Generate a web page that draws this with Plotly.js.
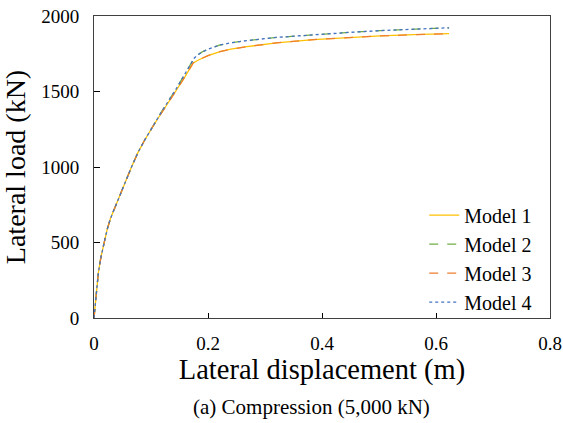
<!DOCTYPE html>
<html><head><meta charset="utf-8">
<script src="https://cdn.plot.ly/plotly-3.0.1.min.js"></script>
<style>html,body{margin:0;padding:0;background:#fff}</style>
</head><body><div id="chart" style="width:563px;height:423px"></div>
<script>
const seriesNames = ["Model 1", "Model 2", "Model 3", "Model 4"];
const xLower = [0, 0.001, 0.002, 0.0035, 0.0076, 0.012, 0.0175, 0.023, 0.029, 0.04, 0.05, 0.066, 0.077, 0.089, 0.105, 0.12, 0.143, 0.16, 0.174, 0.185, 0.20, 0.221, 0.24, 0.268, 0.32, 0.385, 0.45, 0.502, 0.56, 0.623];
const yLower = [0, 45, 80, 165, 298, 400, 497, 585, 660, 765, 850, 1002, 1095, 1179, 1280, 1370, 1500, 1600, 1689, 1712, 1738, 1764, 1780, 1797, 1822, 1844, 1858, 1868, 1876, 1883];
const xUpper = [0, 0.001, 0.002, 0.0035, 0.0076, 0.012, 0.0175, 0.023, 0.029, 0.04, 0.05, 0.066, 0.077, 0.089, 0.105, 0.12, 0.143, 0.16, 0.176, 0.183, 0.19, 0.20, 0.221, 0.24, 0.268, 0.32, 0.385, 0.45, 0.502, 0.56, 0.623];
const yUpper = [0, 45, 80, 165, 298, 400, 497, 585, 660, 765, 850, 1002, 1095, 1179, 1280, 1375, 1510, 1620, 1722, 1745, 1762, 1780, 1808, 1822, 1837, 1858, 1877, 1892, 1903, 1913, 1922];
const xTicks = [0, 0.2, 0.4, 0.6, 0.8];
const yTicks = [0, 500, 1000, 1500, 2000];
const colors = ["#FFC000", "#70AD47", "#ED7D31", "#4472C4"];
const dashes = ["solid", "dash", "dash", "dot"];
const xs = [xLower, xUpper, xLower, xUpper];
const ys = [yLower, yUpper, yLower, yUpper];

const serif = "Liberation Serif";
const traces = seriesNames.map((n, i) => ({
  x: xs[i], y: ys[i], name: n, type: "scatter", mode: "lines",
  line: {color: colors[i], width: 1.3, dash: dashes[i]}
}));

const layout = {
  width: 563, height: 423,
  margin: {l: 94, r: 13, t: 16, b: 105},
  paper_bgcolor: "#fff", plot_bgcolor: "#fff",
  font: {family: serif, color: "#000"},
  showlegend: true,
  legend: {x: 0.972, xanchor: "right", y: 0.405, yanchor: "top", bgcolor: "rgba(0,0,0,0)",
    font: {family: serif, size: 20, color: "#000"}, tracegroupgap: 0, itemwidth: 30},
  xaxis: {range: [0, 0.8], tickvals: xTicks, ticktext: xTicks.map(String), ticks: "inside", ticklen: 5,
    tickcolor: "#000", showgrid: false, zeroline: false, showline: true, linecolor: "#404040", linewidth: 1, mirror: true,
    ticklabelstandoff: 8,
    tickfont: {family: serif, size: 19}, title: {text: "Lateral displacement (m)", font: {family: serif, size: 28.5}, standoff: 2}},
  yaxis: {range: [0, 2000], tickvals: yTicks, ticktext: yTicks.map(String), ticks: "inside", ticklen: 6,
    tickcolor: "#000", showgrid: false, zeroline: false, showline: true, linecolor: "#404040", linewidth: 1, mirror: true,
    ticklabelstandoff: 10,
    tickfont: {family: serif, size: 19}, title: {text: "Lateral load (kN)", font: {family: serif, size: 28}, standoff: 8}},
  annotations: [{text: "(a) Compression (5,000 kN)", xref: "paper", yref: "paper", x: 0.476, y: -0.295,
    xanchor: "center", yanchor: "middle", showarrow: false, font: {family: serif, size: 21, color: "#000"}}]
};
Plotly.newPlot("chart", traces, layout, {displayModeBar: false, staticPlot: true});
</script></body></html>
